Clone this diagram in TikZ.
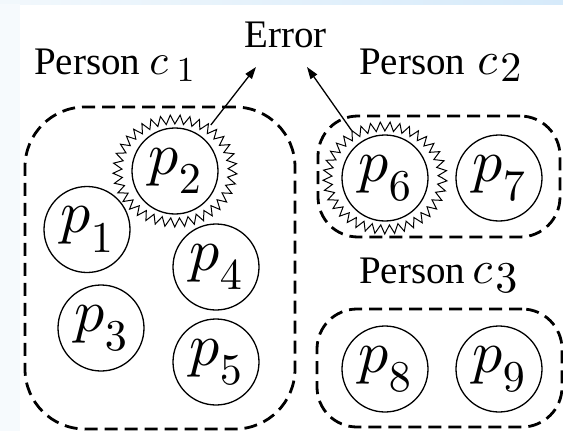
\documentclass[tikz,border=0pt]{standalone}
\usepackage{fontspec}
\newfontfamily\tnr{Liberation Serif}
\usetikzlibrary{decorations.pathmorphing,arrows.meta,shapes.geometric}

% scalable math italic and roman at any size
\DeclareFontFamily{OML}{cmm}{\skewchar\font'177}
\DeclareFontShape{OML}{cmm}{m}{it}{<-> cmmi10}{}
\DeclareFontShape{OT1}{cmr}{m}{n}{<-> cmr10}{}
% slightly larger subscripts in the photo labels
\DeclareMathSizes{60}{60}{44}{34}

% "Person c_k" heading:
% #1 digit, #2 gap before c, #3 size of c, #4 gap before digit, #5 digit size, #6 drop
\newcommand{\personlab}[6]{%
  {\tnr Person}\kern#2%
  {\fontsize{#3}{#3}\selectfont$c$}\kern#4%
  \raisebox{-#6}{\fontsize{#5}{#5}\selectfont$#1$}}

\definecolor{edgetint}{RGB}{246,250,253}
\definecolor{toptintL}{RGB}{242,248,252}
\definecolor{toptintR}{RGB}{214,234,250}

\tikzset{
  pnode/.style={circle, draw, line width=1.3pt, minimum size=86pt, inner sep=0pt,
    font=\fontsize{60}{70}\selectfont},
  halo/.style={ellipse, minimum width=124pt, minimum height=112pt, inner sep=0pt},
  zig/.style={line width=1pt, decorate,
    decoration={zigzag, segment length=9.26pt, amplitude=4.5pt}},
  group/.style={rectangle, draw, line width=2.8pt, dash pattern=on 13pt off 7pt,
    inner sep=0pt},
  heading/.style={anchor=base west, inner sep=0pt, font=\fontsize{39}{44}\selectfont},
  errarrow/.style={line width=1.3pt, -{Triangle[length=12pt,width=8pt]}},
}

\begin{document}
\begin{tikzpicture}[x=1pt, y=-1pt]
  \useasboundingbox (0,0) rectangle (563,431);
  \fill[white] (0,0) rectangle (563,431);
  % faint tinted edges of the page
  \shade[left color=toptintL, right color=toptintR] (0,0) rectangle (563,4);
  \fill[edgetint] (0,4) rectangle (20,431);

  % groups of photos per person
  \node[group, rounded corners=60pt, minimum width=270pt, minimum height=322pt]
    (g1) at (160,268) {};
  \node[group, rounded corners=40pt, minimum width=242pt, minimum height=121pt]
    (g2) at (439,176.5) {};
  \node[group, rounded corners=40pt, minimum width=245pt, minimum height=118pt]
    (g3) at (439.5,368) {};

  % headings
  \node[heading] (h1) at (34,74) {\personlab{1}{9pt}{43pt}{9pt}{35pt}{8pt}};
  \node[heading] (h2) at (359,74) {\personlab{2}{12pt}{46pt}{3pt}{42pt}{8pt}};
  \node[heading] (h3) at (359,283) {\personlab{3}{7pt}{46pt}{3pt}{44pt}{9pt}};
  \node[heading] (err) at (244,47) {\tnr Error};
  \coordinate (errL) at (256,67);
  \coordinate (errR) at (307,67);

  % photos
  \node[pnode] (p1) at (87,229.5) {$p_1$};
  \node[pnode] (p2) at (175,171) {$p_2$};
  \node[pnode] (p3) at (101,328) {$p_3$};
  \node[pnode] (p4) at (216,267) {$p_4$};
  \node[pnode] (p5) at (216,362) {$p_5$};
  \node[pnode] (p6) at (385,178) {$p_6$};
  \node[pnode] (p7) at (499,178) {$p_7$};
  \node[pnode] (p8) at (385,369) {$p_8$};
  \node[pnode] (p9) at (499,369) {$p_9$};

  % erroneous photos: zigzag halo
  \node[halo] (z2) at (p2) {};
  \node[halo] (z6) at (p6) {};
  \draw[zig] (p2.center) ellipse [x radius=57.5pt, y radius=51.5pt];
  \draw[zig] (p6.center) ellipse [x radius=57.5pt, y radius=51.5pt];

  \draw[errarrow] (z2) -- (errL);
  \draw[errarrow] (z6) -- (errR);
\end{tikzpicture}
\end{document}
